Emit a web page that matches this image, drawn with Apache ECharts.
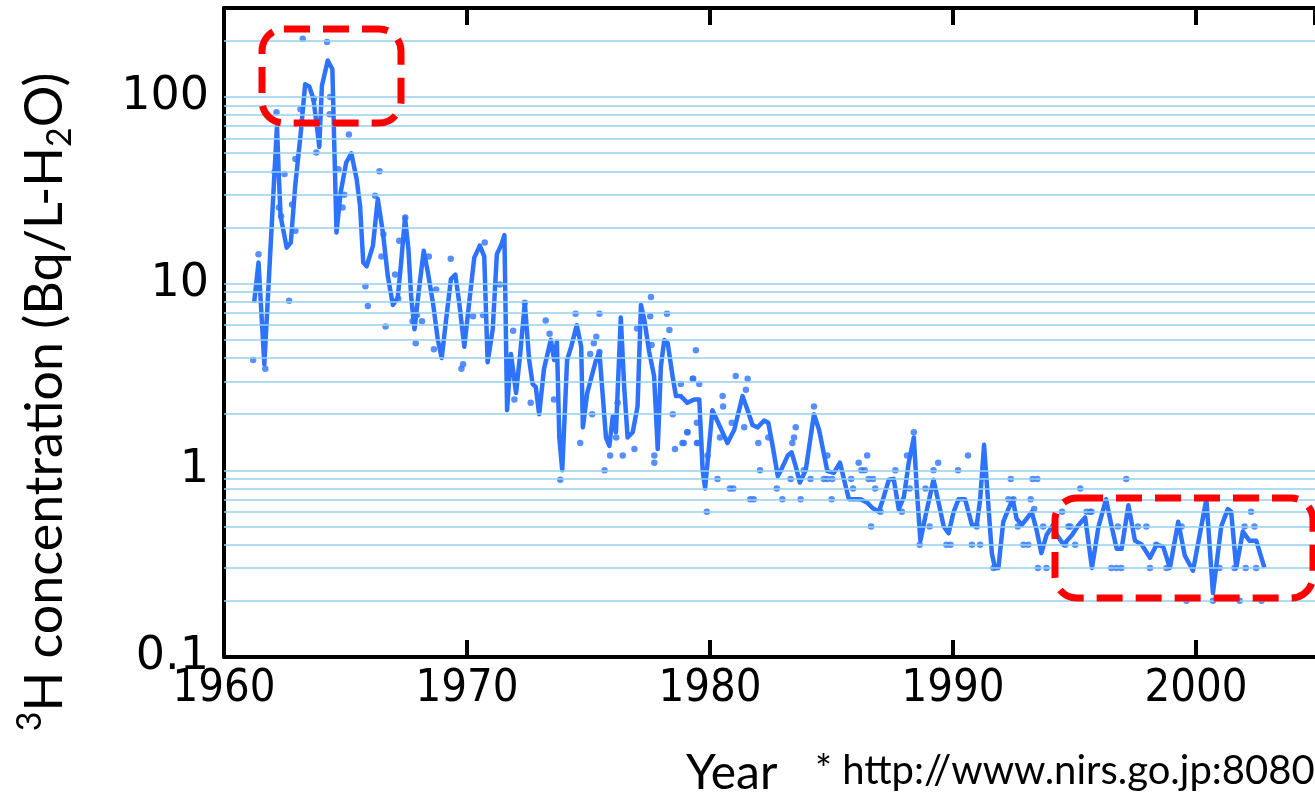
<!DOCTYPE html>
<html>
<head>
<meta charset="utf-8">
<title>3H concentration</title>
<script src="https://cdn.jsdelivr.net/npm/echarts@6/dist/echarts.min.js"></script>
<style>
  html, body { margin: 0; padding: 0; background: #fff; }
  #main { width: 1315px; height: 800px; }
</style>
</head>
<body>
<div id="main"></div>
<script>
// averaged curve (year, Bq/L)
const lineYears = [
  1961.24, 1961.42, 1961.66, 1961.84, 1962.18, 1962.25, 1962.33, 1962.58, 1962.75, 1962.93,
  1963.16, 1963.34, 1963.51, 1963.68, 1963.82, 1963.92, 1964.03, 1964.27, 1964.46, 1964.63,
  1964.80, 1965.03, 1965.24, 1965.46, 1965.60, 1965.73, 1965.87, 1966.13, 1966.33, 1966.54,
  1966.74, 1966.95, 1967.15, 1967.29, 1967.45, 1967.59, 1967.70, 1967.84, 1968.04, 1968.22,
  1968.39, 1968.60, 1968.80, 1968.96, 1969.14, 1969.34, 1969.52, 1969.68, 1969.89, 1970.09,
  1970.30, 1970.53, 1970.71, 1970.85, 1971.06, 1971.23, 1971.40, 1971.54, 1971.65, 1971.81,
  1972.02, 1972.19, 1972.38, 1972.56, 1972.70, 1972.83, 1972.97, 1973.17, 1973.45, 1973.59,
  1973.70, 1973.80, 1973.92, 1974.12, 1974.29, 1974.52, 1974.70, 1974.77, 1974.95, 1975.31,
  1975.45, 1975.72, 1975.86, 1976.00, 1976.13, 1976.33, 1976.47, 1976.61, 1976.82, 1977.02,
  1977.16, 1977.30, 1977.50, 1977.70, 1977.85, 1977.98, 1978.12, 1978.26, 1978.46, 1978.60,
  1978.80, 1979.07, 1979.35, 1979.56, 1979.70, 1979.80, 1979.90, 1980.10, 1980.38, 1980.72,
  1981.00, 1981.34, 1981.55, 1981.75, 1981.96, 1982.23, 1982.40, 1982.58, 1982.79, 1982.92,
  1983.20, 1983.36, 1983.53, 1983.70, 1983.94, 1984.28, 1984.49, 1984.83, 1985.10, 1985.35,
  1985.52, 1985.72, 1986.20, 1986.48, 1986.68, 1986.95, 1987.15, 1987.36, 1987.56, 1987.77,
  1987.98, 1988.18, 1988.39, 1988.52, 1988.66, 1988.87, 1989.20, 1989.41, 1989.62, 1989.82,
  1990.03, 1990.23, 1990.50, 1990.78, 1990.98, 1991.12, 1991.28, 1991.39, 1991.60, 1991.73,
  1991.87, 1992.07, 1992.28, 1992.46, 1992.62, 1992.83, 1993.03, 1993.24, 1993.44, 1993.64,
  1993.85, 1994.12, 1994.28, 1994.55, 1994.90, 1995.17, 1995.44, 1995.72, 1995.99, 1996.30,
  1996.53, 1996.74, 1996.94, 1997.22, 1997.49, 1997.77, 1998.11, 1998.38, 1998.65, 1998.93,
  1999.27, 1999.54, 1999.88, 2000.43, 2000.70, 2001.04, 2001.31, 2001.45, 2001.66, 2001.93,
  2002.20, 2002.48, 2002.82
];
const lineValues = [
  7.9, 13, 3.7, 10.2, 70, 39.6, 23, 15.6, 16.6, 33.4,
  64.6, 117, 114, 97.6, 70, 54, 115, 157, 141, 18.8,
  30.8, 44.6, 50, 36.3, 26.1, 13, 12.4, 16, 28.4, 18.8,
  11, 7.7, 8.4, 13, 22.6, 15.3, 8.6, 5.7, 9.7, 15,
  11.5, 7.9, 5.0, 4.0, 6.4, 10.6, 11.2, 7.9, 4.6, 7.9,
  13.8, 16, 14, 3.8, 5.7, 14.4, 16, 18.2, 2.1, 4.2,
  2.6, 4.2, 7.9, 3.9, 2.9, 2.8, 2.0, 3.5, 5.0, 3.9,
  4.9, 1.5, 1.0, 3.9, 4.6, 6.0, 4.6, 1.7, 2.6, 3.9,
  4.3, 1.5, 1.35, 1.95, 1.6, 6.6, 2.8, 1.5, 1.6, 2.2,
  7.7, 6.4, 4.3, 3.2, 1.3, 3.6, 5.0, 4.8, 3.2, 2.5,
  2.5, 2.3, 2.4, 2.4, 1.0, 0.8, 1.1, 2.1, 1.75, 1.4,
  1.65, 2.5, 2.1, 1.75, 1.7, 1.85, 1.8, 1.35, 0.93, 1.0,
  1.2, 1.25, 1.05, 0.86, 1.0, 2.0, 1.65, 0.99, 0.97, 1.1,
  0.89, 0.7, 0.7, 0.67, 0.63, 0.6, 0.72, 0.89, 0.9, 0.62,
  0.72, 1.1, 1.5, 0.76, 0.42, 0.57, 0.89, 0.67, 0.5, 0.46,
  0.6, 0.7, 0.7, 0.51, 0.51, 0.7, 1.37, 0.86, 0.36, 0.3,
  0.3, 0.53, 0.62, 0.7, 0.55, 0.51, 0.55, 0.6, 0.48, 0.36,
  0.45, 0.51, 0.45, 0.4, 0.45, 0.51, 0.56, 0.3, 0.5, 0.7,
  0.5, 0.38, 0.38, 0.65, 0.42, 0.4, 0.34, 0.4, 0.39, 0.3,
  0.53, 0.35, 0.29, 0.7, 0.22, 0.5, 0.62, 0.6, 0.3, 0.47,
  0.42, 0.42, 0.3
];

// individual measurements
const dotYears = [
  1961.2, 1961.42, 1961.7, 1962.08, 1962.16, 1962.26, 1962.35, 1962.49, 1962.68, 1962.8,
  1962.94, 1962.94, 1963.15, 1963.24, 1963.7, 1963.8, 1964.24, 1964.35, 1964.37, 1964.71,
  1964.88, 1964.95, 1965.14, 1965.82, 1965.92, 1966.22, 1966.4, 1966.48, 1966.56, 1966.65,
  1967.04, 1967.17, 1967.21, 1967.46, 1967.76, 1967.89, 1967.94, 1968.15, 1968.43, 1968.64,
  1968.73, 1969.33, 1969.77, 1969.84, 1970.25, 1970.66, 1970.73, 1971.35, 1971.9, 1971.95,
  1972.38, 1972.62, 1973.24, 1973.4, 1973.58, 1973.84, 1974.47, 1974.66, 1975.07, 1975.15,
  1975.22, 1975.32, 1975.45, 1975.45, 1975.66, 1975.89, 1976.14, 1976.2, 1976.41, 1976.89,
  1977.0, 1977.54, 1977.57, 1977.6, 1977.71, 1977.71, 1978.23, 1978.33, 1978.47, 1978.56,
  1978.8, 1978.87, 1978.92, 1979.06, 1979.08, 1979.29, 1979.31, 1979.42, 1979.46, 1979.46,
  1979.5, 1979.56, 1979.87, 1979.9, 1980.31, 1980.41, 1980.52, 1980.54, 1980.82, 1980.9,
  1980.96, 1981.06, 1981.41, 1981.48, 1981.55, 1981.66, 1981.8, 1981.99, 1982.06, 1982.4,
  1982.75, 1982.98, 1983.32, 1983.39, 1983.46, 1983.53, 1983.73, 1983.86, 1984.14, 1984.28,
  1984.69, 1984.83, 1984.83, 1985.01, 1985.03, 1985.81, 1985.89, 1986.12, 1986.23, 1986.37,
  1986.47, 1986.53, 1986.63, 1986.71, 1986.8, 1987.02, 1987.63, 1987.9, 1988.11, 1988.22,
  1988.39, 1988.63, 1988.87, 1989.04, 1989.2, 1989.39, 1989.73, 1989.9, 1990.21, 1990.62,
  1990.78, 1990.98, 1991.12, 1991.67, 1992.28, 1992.38, 1992.49, 1992.67, 1992.9, 1993.1,
  1993.2, 1993.28, 1993.34, 1993.47, 1993.5, 1993.71, 1993.85, 1994.49, 1994.62, 1994.75,
  1994.83, 1995.03, 1995.24, 1995.5, 1995.65, 1995.7, 1996.52, 1996.73, 1996.79, 1996.93,
  1997.13, 1997.61, 1997.96, 1998.11, 1998.36, 1998.79, 1999.41, 1999.61, 2000.7, 2000.97,
  2001.38, 2001.59, 2001.8, 2002.0, 2002.05, 2002.27, 2002.41, 2002.48, 2002.7
];
const dotValues = [
  3.9, 14.4, 3.5, 39.7, 83, 25.6, 23, 38.7, 8.1, 26.6,
  19.2, 46.5, 86, 205, 97.6, 50.5, 197, 81, 100, 41,
  25.6, 30, 63, 9.7, 7.6, 29.6, 40, 14, 18.4, 5.9,
  11.2, 8.3, 17, 22.6, 6.3, 4.8, 6.8, 6.3, 14, 4.45,
  9.3, 13.6, 3.5, 3.7, 6.7, 6.8, 16.6, 9.9, 5.6, 2.4,
  7.9, 2.3, 6.35, 5.4, 2.4, 0.89, 6.9, 1.4, 4.2, 2.0,
  4.8, 5.2, 6.9, 4.3, 1.0, 1.2, 1.5, 2.3, 1.2, 1.3,
  5.75, 6.7, 8.5, 4.7, 1.2, 1.1, 6.9, 5.65, 2.0, 1.3,
  2.9, 1.4, 1.4, 1.6, 1.6, 3.1, 3.1, 4.4, 1.4, 1.8,
  1.4, 2.9, 0.6, 1.2, 0.9, 1.5, 2.5, 2.2, 0.8, 1.8,
  0.8, 3.2, 1.7, 2.7, 3.1, 0.7, 0.7, 1.4, 1.0, 1.5,
  0.8, 0.7, 0.9, 1.4, 1.5, 1.7, 0.7, 1.0, 0.9, 2.2,
  0.9, 0.9, 1.2, 0.7, 0.9, 0.9, 0.8, 1.1, 1.0, 1.0,
  1.2, 0.9, 0.5, 0.9, 0.8, 0.6, 1.0, 0.6, 1.2, 0.8,
  1.6, 0.4, 0.8, 0.5, 1.0, 1.1, 0.4, 0.4, 1.0, 1.2,
  0.4, 0.5, 0.4, 0.3, 0.7, 0.9, 0.7, 0.5, 0.4, 0.4,
  0.7, 0.9, 0.62, 0.9, 0.3, 0.5, 0.3, 0.6, 0.4, 0.5,
  0.5, 0.4, 0.8, 0.6, 0.6, 0.6, 0.3, 0.3, 0.5, 0.3,
  0.9, 0.5, 0.5, 0.3, 0.4, 0.3, 0.5, 0.2, 0.2, 0.3,
  0.6, 0.3, 0.2, 0.5, 0.3, 0.6, 0.5, 0.3, 0.2
];

// the plot runs off the right edge of the picture, a little short of 2005
const yearMin = 1960;
const yearMax = 2004.9;
const yearStep = 10;
const gridValues = [
  0.2, 0.3, 0.4, 0.5, 0.6, 0.7, 0.8, 0.9,
  1, 2, 3, 4, 5, 6, 7, 8, 9,
  10, 20, 30, 40, 50, 60, 70, 80, 90,
  100, 200
];

const blue = '#2e73ff';
const gridBlue = '#93d2ef';

const chart = echarts.init(document.getElementById('main'));

const lineData = lineYears.map((y, i) => [y, lineValues[i]]);
const dotData = dotYears.map((y, i) => [y, dotValues[i]]);

const axisLine = { show: true, lineStyle: { color: '#000', width: 4 } };
const axisTick = { show: true, inside: true, length: 17, lineStyle: { color: '#000', width: 4 } };
const yearLabel = v => (v % yearStep === 0 ? String(v) : '');

chart.setOption({
  animation: false,
  backgroundColor: '#fff',
  grid: { left: 224, right: 0, top: 8, bottom: 143 },
  xAxis: [
    {
      type: 'value',
      min: yearMin,
      max: yearMax,
      interval: yearStep,
      axisLine: axisLine,
      axisTick: axisTick,
      splitLine: { show: false },
      axisLabel: {
        color: '#000',
        fontFamily: 'DejaVu Sans Condensed',
        fontSize: 45,
        margin: 10,
        showMaxLabel: false,
        formatter: yearLabel
      }
    },
    {
      type: 'value',
      position: 'top',
      min: yearMin,
      max: yearMax,
      interval: yearStep,
      axisLine: axisLine,
      axisTick: axisTick,
      splitLine: { show: false },
      axisLabel: { show: false }
    }
  ],
  yAxis: {
    type: 'log',
    logBase: 10,
    min: 0.1,
    max: 300,
    axisLine: axisLine,
    axisTick: { show: false },
    splitLine: { show: false },
    axisLabel: {
      color: '#000',
      fontFamily: 'DejaVu Sans',
      fontSize: 46,
      margin: 15,
      formatter: function (v) {
        const l = Math.log10(v);
        if (Math.abs(l - Math.round(l)) > 1e-6) return '';
        return String(+v.toPrecision(3));
      }
    }
  },
  graphic: [
    {
      type: 'rect',
      z: 100,
      shape: { x: 262, y: 29, width: 139, height: 94, r: 22 },
      style: { fill: 'none', stroke: '#ff0000', lineWidth: 7, lineDash: [26, 13] }
    },
    {
      type: 'rect',
      z: 100,
      shape: { x: 1055, y: 498, width: 258, height: 100, r: 22 },
      style: { fill: 'none', stroke: '#ff0000', lineWidth: 7, lineDash: [26, 13] }
    },
    {
      type: 'text',
      x: 45,
      y: 402,
      rotation: Math.PI / 2,
      style: {
        text: '{sup|3}H concentration (Bq/L-H{sub|2}O)',
        align: 'center',
        verticalAlign: 'middle',
        fill: '#000',
        fontFamily: 'Lato',
        fontSize: 52,
        lineHeight: 64,
        rich: {
          sup: { fontSize: 34, lineHeight: 34, verticalAlign: 'top', fontFamily: 'Lato', fill: '#000' },
          sub: { fontSize: 34, lineHeight: 34, verticalAlign: 'bottom', fontFamily: 'Lato', fill: '#000' }
        }
      }
    },
    {
      type: 'text',
      x: 686,
      y: 774,
      style: {
        text: 'Year',
        align: 'left',
        verticalAlign: 'middle',
        fill: '#000',
        fontFamily: 'Lato',
        fontSize: 48
      }
    },
    {
      type: 'text',
      x: 815,
      y: 771,
      style: {
        text: '* http://www.nirs.go.jp:8080',
        align: 'left',
        verticalAlign: 'middle',
        fill: '#000',
        fontFamily: 'Lato',
        fontSize: 40
      }
    }
  ],
  series: [
    {
      name: 'grid',
      type: 'line',
      data: [],
      z: 1,
      silent: true,
      markLine: {
        silent: true,
        symbol: 'none',
        label: { show: false },
        lineStyle: { color: gridBlue, width: 1.5, type: 'solid' },
        data: gridValues.map(v => ({ yAxis: v }))
      }
    },
    {
      name: 'samples',
      type: 'scatter',
      data: dotData,
      z: 2,
      symbolSize: 6.5,
      itemStyle: { color: blue }
    },
    {
      name: 'average',
      type: 'line',
      data: lineData,
      z: 3,
      showSymbol: false,
      lineStyle: { color: blue, width: 4.5, join: 'round' }
    }
  ]
});
</script>
</body>
</html>
